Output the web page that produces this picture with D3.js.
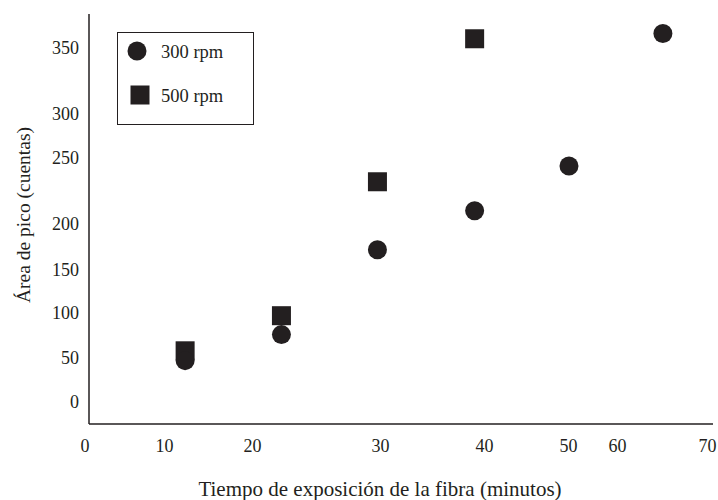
<!DOCTYPE html>
<html>
<head>
<meta charset="utf-8">
<script src="https://cdn.jsdelivr.net/npm/d3@7"></script>
<style>
  body { margin: 0; background: #fff; }
  text { font-family: "Liberation Serif", "Times New Roman", serif; fill: #231f20; }
</style>
</head>
<body>
<svg id="chart" width="718" height="500"></svg>
<script>
// tick labels (the axes are not evenly spaced in the original)
const xTicks = [0, 10, 20, 30, 40, 50, 60, 70];
const yTicks = [0, 50, 100, 150, 200, 250, 300, 350];

// series
const series = ['300 rpm', '500 rpm'];
const x300 = [12.4, 22.3, 29.8, 39.1, 50.2, 65.1];
const y300 = [47, 76, 172, 210, 244, 361];
const x500 = [12.4, 22.3, 29.8, 39.1];
const y500 = [58, 97, 232, 357];

const ink = '#231f20';
const svg = d3.select('#chart');

const plotL = 89, plotR = 713, plotT = 14, plotB = 424;

// piecewise scales so the labels fall where the original puts them
const x = d3.scaleLinear()
  .domain(xTicks)
  .range([84.5, 164, 252, 380, 484, 568, 617, 707]);
const y = d3.scaleLinear()
  .domain(yTicks)
  .range([402, 358, 313, 270, 224, 158, 114, 48]);

// axes
const gx = svg.append('g')
  .attr('transform', 'translate(0,' + plotB + ')')
  .call(d3.axisBottom(x).tickValues(xTicks).tickSize(0).tickPadding(15));
const gy = svg.append('g')
  .attr('transform', 'translate(' + plotL + ',0)')
  .call(d3.axisLeft(y).tickValues(yTicks).tickSize(0).tickPadding(10));
[gx, gy].forEach(g => {
  g.select('.domain').remove();
  g.selectAll('text')
    .attr('font-family', '"Liberation Serif", serif')
    .attr('font-size', 18)
    .attr('fill', ink);
});

svg.append('line')
  .attr('x1', plotL).attr('x2', plotL).attr('y1', plotT).attr('y2', plotB)
  .attr('stroke', ink).attr('stroke-width', 1.5);
svg.append('line')
  .attr('x1', plotL).attr('x2', plotR).attr('y1', plotB).attr('y2', plotB)
  .attr('stroke', ink).attr('stroke-width', 1.5);

// axis titles
svg.append('text')
  .attr('x', 380).attr('y', 496)
  .attr('text-anchor', 'middle')
  .attr('font-size', 21)
  .text('Tiempo de exposición de la fibra (minutos)');
svg.append('text')
  .attr('transform', 'translate(30,215) rotate(-90)')
  .attr('text-anchor', 'middle')
  .attr('font-size', 19.5)
  .text('Área de pico (cuentas)');

// points: squares first, circles drawn over them
const r = 9.5, s = 19;
svg.append('g').selectAll('rect')
  .data(x500.map((d, i) => [d, y500[i]]))
  .join('rect')
  .attr('x', d => x(d[0]) - s / 2)
  .attr('y', d => y(d[1]) - s / 2)
  .attr('width', s).attr('height', s)
  .attr('fill', ink);
svg.append('g').selectAll('circle')
  .data(x300.map((d, i) => [d, y300[i]]))
  .join('circle')
  .attr('cx', d => x(d[0]))
  .attr('cy', d => y(d[1]))
  .attr('r', r)
  .attr('fill', ink);

// legend
const lg = svg.append('g');
lg.append('rect')
  .attr('x', 117.5).attr('y', 32.5).attr('width', 136).attr('height', 92)
  .attr('fill', '#fff').attr('stroke', ink).attr('stroke-width', 1);
lg.append('circle').attr('cx', 137).attr('cy', 51).attr('r', r).attr('fill', ink);
lg.append('rect').attr('x', 140 - s / 2).attr('y', 95 - s / 2)
  .attr('width', s).attr('height', s).attr('fill', ink);
lg.selectAll('text.lab')
  .data(series)
  .join('text')
  .attr('class', 'lab')
  .attr('x', 161)
  .attr('y', (d, i) => 58 + i * 44)
  .attr('font-size', 18.5)
  .text(d => d);
</script>
</body>
</html>
